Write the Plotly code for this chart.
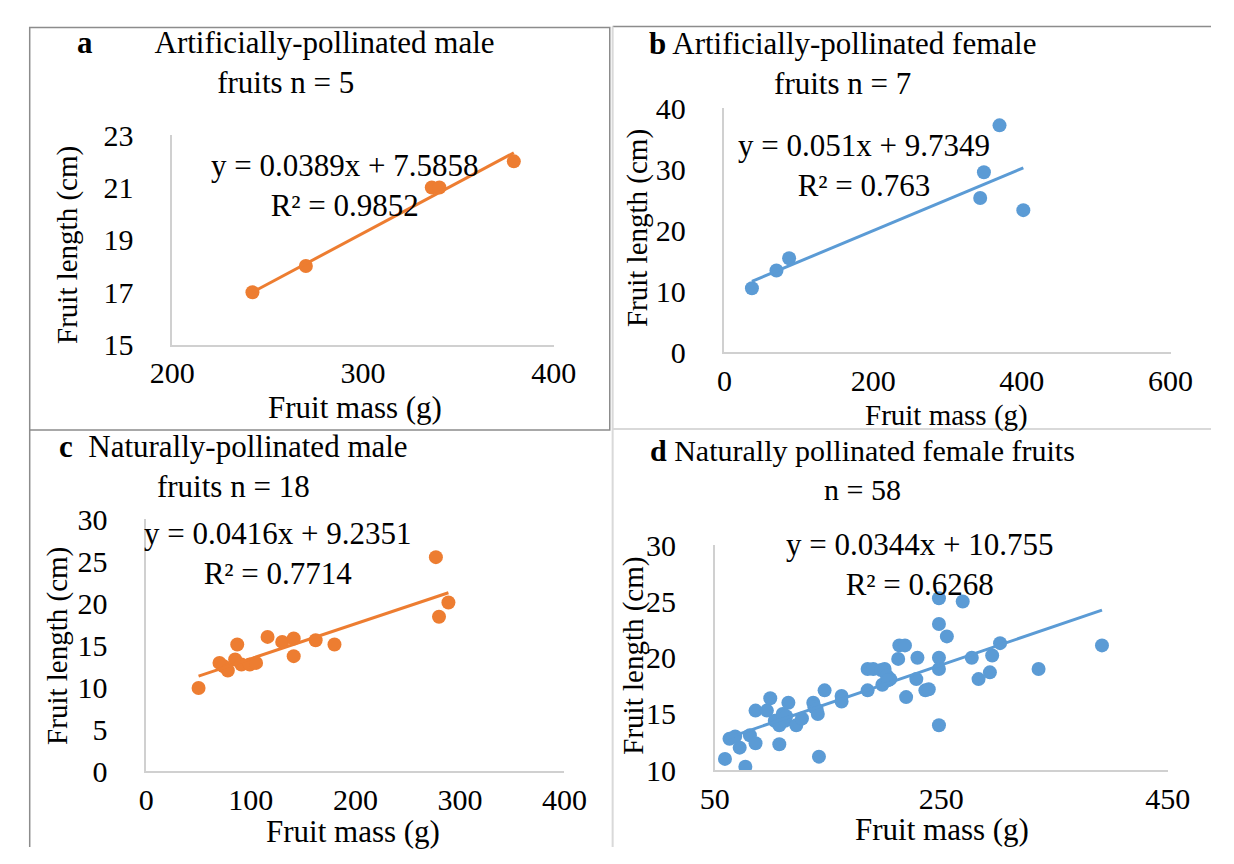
import plotly.graph_objects as go

W, H = 1234, 864
FONT = "Liberation Serif"
ORANGE = "#ED7D31"
BLUE = "#5B9BD5"

# ---- data ----
a_mass = [242, 270, 336, 340, 379]
a_len = [17, 18, 21, 21, 22]
a_fit = (0.0389, 7.5858)

b_mass = [37, 70, 87, 344, 349, 370, 402]
b_len = [10.5, 13.4, 15.4, 25.3, 29.5, 37.2, 23.3]
b_fit = (0.051, 9.7349)

c_mass = [50, 70, 74, 78, 85, 87, 91, 99, 105, 116, 130, 141, 141, 162, 180, 277, 280, 289]
c_len = [9.9, 12.9, 12.5, 12.0, 13.3, 15.1, 12.7, 12.7, 12.9, 16.0, 15.4, 15.8, 13.7, 15.6, 15.1, 25.5, 18.4, 20.1]
c_fit = (0.0416, 9.2351)

d_mass = [59, 77, 63, 68, 72, 81, 86, 86, 96, 99, 107, 103, 107, 110, 115, 112, 122, 127,
          137, 138, 141, 142, 147, 162, 162, 185, 185, 190, 197, 200, 198, 202, 205, 212,
          213, 218, 219, 228, 229, 236, 239, 248, 248, 248, 248, 248, 255, 269, 277, 283,
          293, 295, 302, 336, 392, 113, 203, 140]
d_len = [11.0, 10.3, 12.8, 13.0, 12.0, 13.1, 12.4, 15.3, 15.3, 16.4, 12.3, 14.4, 14.0, 15.0,
         16.0, 14.4, 14.0, 14.6, 16.0, 15.6, 15.0, 11.2, 17.1, 16.6, 16.1, 17.1, 19.0, 19.0,
         18.9, 19.0, 17.6, 18.4, 18.1, 19.9, 21.1, 21.1, 16.5, 18.1, 20.0, 17.1, 17.2, 25.3,
         23.0, 20.0, 19.0, 14.0, 21.9, 25.0, 20.0, 18.1, 18.7, 20.2, 21.3, 19.0, 21.1, 14.8,
         18.0, 15.4]
d_fit = (0.0344, 10.755)

NB = "\u00a0"
panels = [
    dict(x=a_mass, y=a_len, fit=a_fit, color=ORANGE, xr=[200, 400], xd=100, yr=[15, 23], yd=2,
         px=(156, 552), py=(123, 341),
         eq="y = 0.0389x + 7.5858<br>R² = 0.9852", eqpos=(335, 175),
         title="<b>a</b>" + NB * 8 + "Artificially-pollinated male<br>fruits n = 5", tpos=(274, 47), tsize=31,
         ytitle=(47, 237), xtitle=(346, 406), xtsize=31),
    dict(x=b_mass, y=b_len, fit=b_fit, color=BLUE, xr=[0, 600], xd=200, yr=[0, 40], yd=10,
         px=(729, 1192), py=(95, 349),
         eq="y = 0.051x + 9.7349<br>R² = 0.763", eqpos=(874, 155),
         title="<b>b</b> Artificially-pollinated female<br>fruits n = 7", tpos=(852, 48), tsize=31,
         ytitle=(639, 220), xtitle=(960, 415), xtsize=29),
    dict(x=c_mass, y=c_len, fit=c_fit, color=ORANGE, xr=[0, 400], xd=100, yr=[0, 30], yd=5,
         px=(129, 563), py=(523, 785),
         eq="y = 0.0416x + 9.2351<br>R² = 0.7714", eqpos=(265, 558),
         title="<b>c</b>" + NB * 2 + "Naturally-pollinated male<br>fruits n = 18", tpos=(220, 468), tsize=31,
         ytitle=(37, 655), xtitle=(344, 848), xtsize=31),
    dict(x=d_mass, y=d_len, fit=d_fit, color=BLUE, xr=[50, 450], xd=200, yr=[10, 30], yd=5,
         px=(719, 1189), py=(550, 784),
         eq="y = 0.0344x + 10.755<br>R² = 0.6268", eqpos=(931, 570),
         title="<b>d</b> Naturally pollinated female fruits<br>n = 58", tpos=(872, 472), tsize=30,
         ytitle=(635, 665), xtitle=(955, 846), xtsize=31),
]

fig = go.Figure()
annotations = []


def ann(text, x, y, size=31, angle=0):
    annotations.append(dict(text=text, x=x / W, y=1 - y / H, xref="paper", yref="paper",
                            showarrow=False, xanchor="center", yanchor="middle", align="center",
                            textangle=angle, font=dict(family=FONT, size=size, color="black")))


for i, p in enumerate(panels):
    n = "" if i == 0 else str(i + 1)
    xa, ya = "x" + n, "y" + n
    fig.add_trace(go.Scatter(x=p["x"], y=p["y"], mode="markers", xaxis=xa, yaxis=ya,
                             marker=dict(color=p["color"], size=14), showlegend=False))
    x0, x1 = min(p["x"]), max(p["x"])
    m, b = p["fit"]
    fig.add_trace(go.Scatter(x=[x0, x1], y=[m * x0 + b, m * x1 + b], mode="lines", xaxis=xa, yaxis=ya,
                             line=dict(color=p["color"], width=3), showlegend=False))
    axis_common = dict(showline=True, linecolor="#d0d0d0", linewidth=1.5, showgrid=False, zeroline=False,
                       ticks="", tickfont=dict(family=FONT, size=30, color="black"))
    fig.layout["xaxis" + n] = dict(domain=[p["px"][0] / W, p["px"][1] / W], range=p["xr"], dtick=p["xd"],
                                   tick0=p["xr"][0], anchor=ya, ticklabelstandoff=1, **axis_common)
    fig.layout["yaxis" + n] = dict(domain=[1 - p["py"][1] / H, 1 - p["py"][0] / H], range=p["yr"], dtick=p["yd"],
                                   tick0=p["yr"][0], anchor=xa, ticklabelstandoff=31, **axis_common)
    ann(p["eq"], *p["eqpos"])
    ann(p["title"], *p["tpos"], size=p["tsize"])
    ann("Fruit length (cm)", *p["ytitle"], size=29, angle=-90)
    ann("Fruit mass (g)", *p["xtitle"], size=p["xtsize"])

shapes = [
    dict(type="rect", xref="paper", yref="paper", x0=8 / W, x1=610 / W, y0=1 - 430 / H, y1=1 - 11 / H,
         line=dict(color="#8c8c8c", width=1.5)),
    dict(type="line", xref="paper", yref="paper", x0=613 / W, x1=1, y0=1 - 10 / H, y1=1 - 10 / H,
         line=dict(color="#8c8c8c", width=1.5)),
    dict(type="line", xref="paper", yref="paper", x0=613 / W, x1=1, y0=1 - 429 / H, y1=1 - 429 / H,
         line=dict(color="#d9d9d9", width=2)),
    dict(type="line", xref="paper", yref="paper", x0=613 / W, x1=613 / W, y0=0, y1=1 - 10 / H,
         line=dict(color="#d9d9d9", width=2)),
    dict(type="line", xref="paper", yref="paper", x0=8 / W, x1=8 / W, y0=0, y1=1 - 430 / H,
         line=dict(color="#8c8c8c", width=1.5)),
]

fig.update_layout(width=W, height=H, margin=dict(l=0, r=0, t=0, b=0), paper_bgcolor="white",
                  plot_bgcolor="white", annotations=annotations, shapes=shapes, showlegend=False)
fig.write_html("out.html",
               post_script="document.body.style.margin='0';document.body.style.overflow='hidden';")
